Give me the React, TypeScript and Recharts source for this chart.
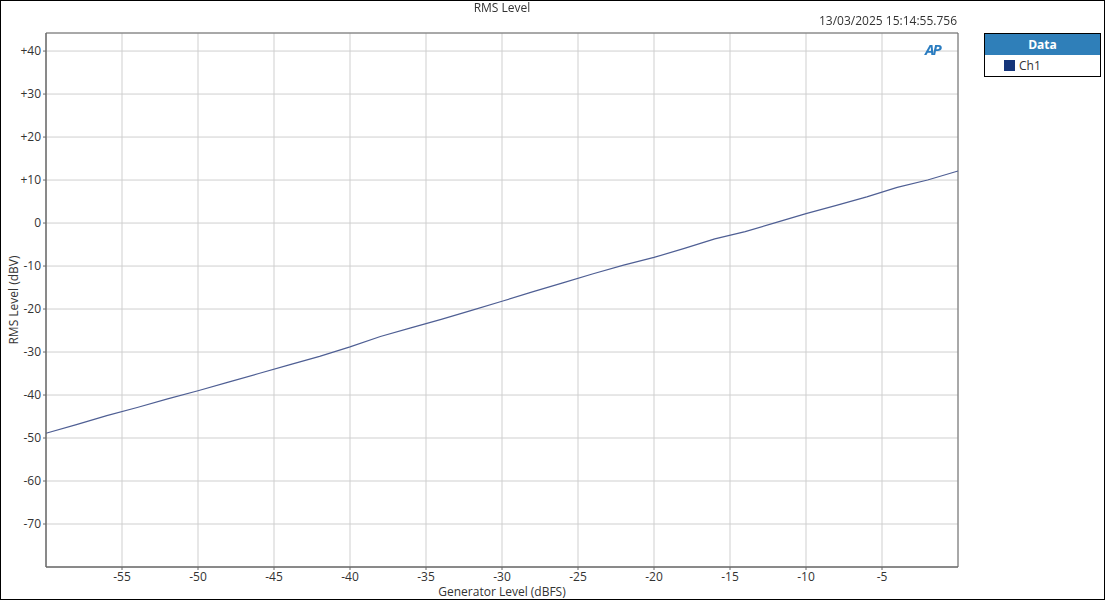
import React from "react";
import {
  CartesianGrid,
  Line,
  LineChart,
  ReferenceArea,
  XAxis,
  YAxis,
} from "recharts";

// Generator sweep, 2 dB steps
const GEN_DBFS = [
  -60, -58, -56, -54, -52, -50, -48, -46, -44, -42, -40, -38, -36, -34, -32,
  -30, -28, -26, -24, -22, -20, -18, -16, -14, -12, -10, -8, -6, -4, -2, 0,
];
const CH1_DBV = [
  -48.9, -46.9, -44.8, -42.9, -40.9, -39.0, -37.0, -35.0, -33.0, -31.0, -28.8,
  -26.4, -24.4, -22.4, -20.3, -18.2, -16.0, -13.9, -11.8, -9.8, -8.0, -5.9,
  -3.7, -2.0, 0.1, 2.2, 4.1, 6.1, 8.3, 10.0, 12.1,
];
const X_TICKS = [-55, -50, -45, -40, -35, -30, -25, -20, -15, -10, -5];
const Y_TICKS = [40, 30, 20, 10, 0, -10, -20, -30, -40, -50, -60, -70];

const X_DOMAIN: [number, number] = [-60, 0];
const Y_DOMAIN: [number, number] = [-80, 44.2];

const LINE = "#4f5f94";
const GRID = "#cfcfcf";
const FRAME = "#6b6b6b";
const TXT = "#333333";
const FONT = "'Open Sans', 'Noto Sans', sans-serif";

const data = GEN_DBFS.map((g, i) => ({ gen: g, ch1: CH1_DBV[i] }));

const fmtY = (v: number) => (v > 0 ? `+${v}` : `${v}`);

function LegendBox() {
  return (
    <div
      style={{
        position: "absolute",
        left: 984,
        top: 33,
        width: 115,
        border: "1px solid #000",
        background: "#fff",
        fontSize: 12,
      }}
    >
      <div
        style={{
          background: "#2f7fb9",
          color: "#fff",
          fontWeight: 700,
          textAlign: "center",
          height: 21,
          lineHeight: "21px",
        }}
      >
        Data
      </div>
      <div
        style={{
          height: 21,
          display: "flex",
          alignItems: "center",
          paddingLeft: 19,
          color: TXT,
        }}
      >
        <span
          style={{
            display: "inline-block",
            width: 11,
            height: 11,
            background: "#15357a",
            marginRight: 4,
          }}
        />
        Ch1
      </div>
    </div>
  );
}

export default function App() {
  return (
    <div
      style={{
        position: "fixed",
        left: 0,
        top: 0,
        width: 1105,
        height: 600,
        background: "#fff",
        fontFamily: FONT,
      }}
    >
      <LineChart
        width={1105}
        height={600}
        data={data}
        margin={{ top: 33, right: 147, bottom: 0, left: 0 }}
        style={{ fontFamily: FONT }}
      >
        <CartesianGrid stroke={GRID} />
        <XAxis
          type="number"
          dataKey="gen"
          domain={X_DOMAIN}
          ticks={X_TICKS}
          height={33}
          tick={{ fontSize: 12, fill: TXT }}
          tickSize={3}
          tickLine={{ stroke: FRAME }}
          axisLine={{ stroke: FRAME }}
          label={{
            value: "Generator Level (dBFS)",
            position: "insideBottom",
            offset: 4,
            style: { fontSize: 12, fill: TXT },
          }}
        />
        <YAxis
          type="number"
          domain={Y_DOMAIN}
          ticks={Y_TICKS}
          width={46}
          tickFormatter={fmtY}
          tick={{ fontSize: 12, fill: TXT }}
          tickSize={3}
          tickLine={{ stroke: FRAME }}
          axisLine={{ stroke: FRAME }}
          allowDataOverflow
          label={{
            value: "RMS Level (dBV)",
            angle: -90,
            position: "insideLeft",
            offset: 14,
            style: { fontSize: 12, fill: TXT, textAnchor: "middle" },
          }}
        />
        <ReferenceArea
          x1={X_DOMAIN[0]}
          x2={X_DOMAIN[1]}
          y1={Y_DOMAIN[0]}
          y2={Y_DOMAIN[1]}
          fill="none"
          stroke={FRAME}
          strokeWidth={1}
          ifOverflow="visible"
        />
        <Line
          type="linear"
          dataKey="ch1"
          name="Ch1"
          stroke={LINE}
          strokeWidth={1.2}
          dot={false}
          isAnimationActive={false}
        />
      </LineChart>
      <LegendBox />
      <div
        style={{
          position: "absolute",
          left: 0,
          width: 1004,
          top: -1,
          textAlign: "center",
          fontSize: 12,
          color: TXT,
        }}
      >
        RMS Level
      </div>
      <div
        style={{
          position: "absolute",
          right: 1105 - 957,
          top: 12,
          fontSize: 12,
          color: TXT,
        }}
      >
        13/03/2025 15:14:55.756
      </div>
      <div
        style={{
          position: "absolute",
          left: 925,
          top: 39,
          fontSize: 15,
          fontWeight: 700,
          fontStyle: "italic",
          color: "#2a7cc0",
          letterSpacing: -2,
        }}
      >
        AP
      </div>
      <div
        style={{
          position: "absolute",
          inset: 0,
          border: "1px solid #000",
          pointerEvents: "none",
        }}
      />
    </div>
  );
}
